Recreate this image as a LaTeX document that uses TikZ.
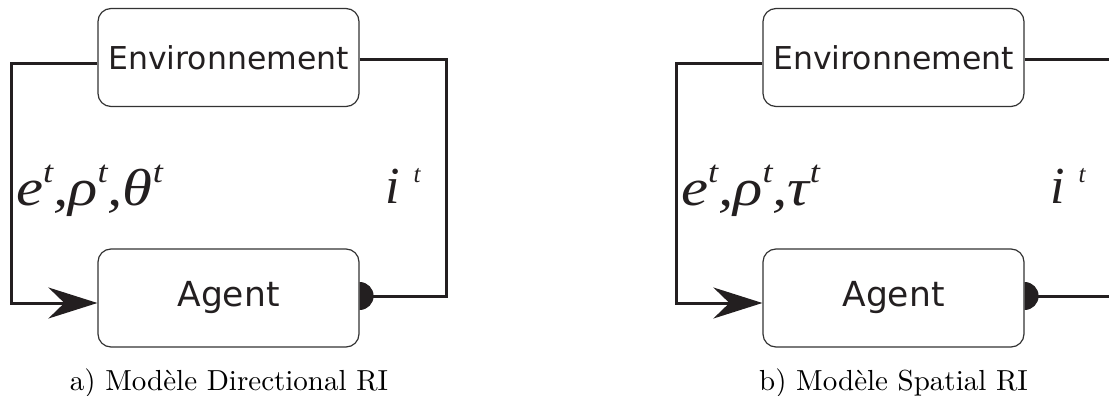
\documentclass[tikz,border=0pt]{standalone}
\usepackage{fontspec}
\usetikzlibrary{arrows.meta}
\newfontfamily\boxfont{DejaVu Sans}
\newfontfamily\tmsfont{Liberation Serif}
\definecolor{ink}{HTML}{231F20}
\definecolor{boxline}{HTML}{333333}
\newcommand{\supt}{\raisebox{23pt}{\fontsize{31}{31}\selectfont t}}
\newcommand{\supti}{\raisebox{21pt}{\fontsize{25}{25}\selectfont t}}
\tikzset{
  blockbox/.style={draw=boxline, line width=1.2pt, rounded corners=13pt, fill=white,
    minimum width=261pt, minimum height=98pt, inner sep=0pt, text=ink},
  envfont/.style={font=\boxfont\fontsize{31.5}{32}\selectfont},
  agfont/.style={font=\boxfont\fontsize{34.5}{35}\selectfont},
  conn/.style={draw=ink, line width=3pt},
  bigarrow/.style={-{Stealth[length=49pt,width=31pt,inset=16pt]}},
  mathlab/.style={anchor=base west, inner sep=0pt, text=ink,
    font=\tmsfont\itshape\fontsize{52}{52}\selectfont},
  caption/.style={anchor=base, inner sep=0pt, text=black}
}
\begin{document}
\begin{tikzpicture}[x=1pt,y=-1pt]
\useasboundingbox (0,0) rectangle (1109,396);
% ---- panel a ----
\node[blockbox,envfont] (envA) at (228.5,57.5) {Environnement};
\node[blockbox,agfont] (agA) at (228.5,298) {Agent};
\draw[conn,bigarrow] ([yshift=-6.5pt]envA.west) -- ++(-86,0) |- ([yshift=-5pt]agA.west);
\draw[conn] ([yshift=-2.5pt]envA.east) -- ++(87,0) |- ([yshift=2pt]agA.east);
\fill[ink] ([yshift=-12pt]agA.east) arc[start angle=-90,end angle=90,radius=14pt] -- cycle;
\node[mathlab] (labA) at (16,205) {\scalebox{1.17}[1]{e\supt,ρ\supt,θ\supt}};
\node[mathlab] (iA) at (385,203) {i\hspace{14pt}\supti};
\node[caption] (capA) at (229,390) {\scalebox{2.9}{a) Modèle Directional RI}};
% ---- panel b ----
\node[blockbox,envfont] (envB) at (893.5,57.5) {Environnement};
\node[blockbox,agfont] (agB) at (893.5,298) {Agent};
\draw[conn,bigarrow] ([yshift=-6.5pt]envB.west) -- ++(-86,0) |- ([yshift=-5pt]agB.west);
\draw[conn] ([yshift=-2.5pt]envB.east) -- ++(90,0);
\draw[conn] ([yshift=2pt]agB.east) -- ++(90,0);
\fill[ink] ([yshift=-12pt]agB.east) arc[start angle=-90,end angle=90,radius=14pt] -- cycle;
\node[mathlab] (labB) at (681,205) {\scalebox{1.17}[1]{e\supt,ρ\supt,τ\supt}};
\node[mathlab] (iB) at (1050,203) {i\hspace{14pt}\supti};
\node[caption] (capB) at (893.5,390) {\scalebox{2.9}{b) Modèle Spatial RI}};
\end{tikzpicture}
\end{document}
